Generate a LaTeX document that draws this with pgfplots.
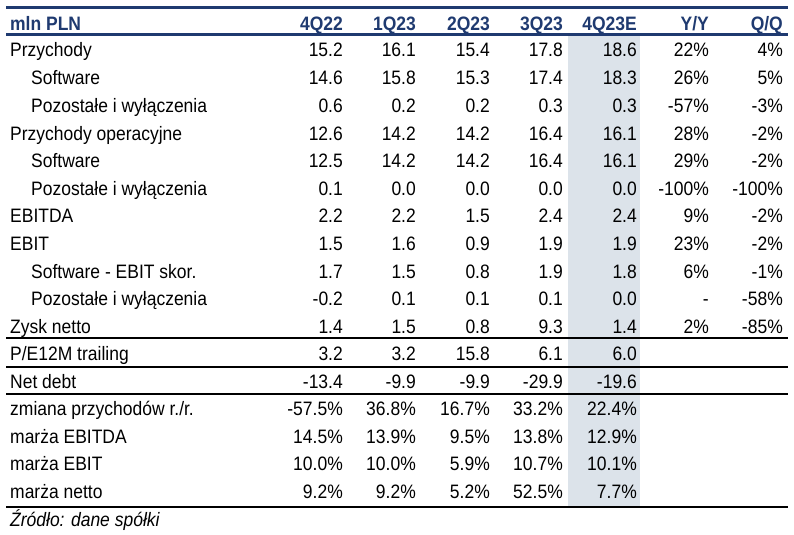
\documentclass[border=0pt]{standalone}
\usepackage{fontspec}
\setmainfont{Liberation Sans}[FakeStretch=0.9]
\usepackage{pgfplots}
\pgfplotsset{compat=1.18}
\definecolor{navy}{HTML}{1F3A70}
\definecolor{shade}{HTML}{DCE3EA}
\newcommand{\tbl}{\fontsize{19.5}{21}\selectfont}
\pgfplotsset{
  txtR/.style={draw=none, mark=none, nodes near coords, point meta=explicit symbolic,
    every node near coord/.append style={anchor=base east, inner sep=0pt, font=\tbl, text=black}},
  txtL/.style={draw=none, mark=none, nodes near coords, point meta=explicit symbolic,
    every node near coord/.append style={anchor=base west, inner sep=0pt, font=\tbl, text=black}},
  hdr/.style={draw=none, mark=none, nodes near coords, point meta=explicit symbolic,
    every node near coord/.append style={anchor=base east, inner sep=0pt, font=\tbl\bfseries, text=navy}},
}
\begin{document}
\begin{tikzpicture}
\begin{axis}[
  width=794bp, height=535bp, scale only axis,
  xmin=0, xmax=794, ymin=0, ymax=535, y dir=reverse,
  hide axis, clip=false,
]
% invisible frame to fix the page size
\addplot[draw=none, mark=none] coordinates {(0,0) (794,535)};
% shaded forecast column
\addplot[fill=shade, draw=none] coordinates {(568,36) (640,36) (640,506) (568,506)} -- cycle;
% rules
\addplot[navy, line width=2.5bp] coordinates {(6,7.5) (788,7.5)};
\addplot[navy, line width=2.8bp] coordinates {(6,34.5) (788,34.5)};
\addplot[black, line width=2bp] coordinates {(6,338) (788,338)};
\addplot[black, line width=2bp] coordinates {(6,366.5) (788,366.5)};
\addplot[black, line width=2bp] coordinates {(6,393.5) (788,393.5)};
\addplot[black, line width=2.5bp] coordinates {(6,507) (788,507)};
% header
\addplot[hdr] coordinates {(343,31) [4Q22] (416,31) [1Q23] (490,31) [2Q23] (563,31) [3Q23] (637,31) [4Q23E] (709,31) [Y/Y] (783,31) [Q/Q]};
\addplot[hdr, every node near coord/.append style={anchor=base west}] coordinates {(10,31) [mln PLN]};
% row labels (main)
\addplot[txtL] coordinates {
 (10,57) [Przychody]
 (10,140.1) [Przychody operacyjne]
 (10,222.9) [EBITDA]
 (10,250.5) [EBIT]
 (10,333.3) [Zysk netto]
 (10,360.3) [P/E12M trailing]
 (10,388) [Net debt]
 (10,415.5) [zmiana przychodów r./r.]
 (10,443) [marża EBITDA]
 (10,470.5) [marża EBIT]
 (10,498) [marża netto]
};
% row labels (indented)
\addplot[txtL] coordinates {
 (31,84.9) [Software]
 (31,112.5) [Pozostałe i wyłączenia]
 (31,167.7) [Software]
 (31,195.3) [Pozostałe i wyłączenia]
 (31,278.1) [Software - EBIT skor.]
 (31,305.7) [Pozostałe i wyłączenia]
};
% 4Q22
\addplot[txtR] coordinates {
 (343,57) [15.2] (343,84.9) [14.6] (343,112.5) [0.6] (343,140.1) [12.6] (343,167.7) [12.5]
 (343,195.3) [0.1] (343,222.9) [2.2] (343,250.5) [1.5] (343,278.1) [1.7] (343,305.7) [-0.2]
 (343,333.3) [1.4] (343,360.3) [3.2] (343,388) [-13.4] (343,415.5) [-57.5\%] (343,443) [14.5\%]
 (343,470.5) [10.0\%] (343,498) [9.2\%]
};
% 1Q23
\addplot[txtR] coordinates {
 (416,57) [16.1] (416,84.9) [15.8] (416,112.5) [0.2] (416,140.1) [14.2] (416,167.7) [14.2]
 (416,195.3) [0.0] (416,222.9) [2.2] (416,250.5) [1.6] (416,278.1) [1.5] (416,305.7) [0.1]
 (416,333.3) [1.5] (416,360.3) [3.2] (416,388) [-9.9] (416,415.5) [36.8\%] (416,443) [13.9\%]
 (416,470.5) [10.0\%] (416,498) [9.2\%]
};
% 2Q23
\addplot[txtR] coordinates {
 (490,57) [15.4] (490,84.9) [15.3] (490,112.5) [0.2] (490,140.1) [14.2] (490,167.7) [14.2]
 (490,195.3) [0.0] (490,222.9) [1.5] (490,250.5) [0.9] (490,278.1) [0.8] (490,305.7) [0.1]
 (490,333.3) [0.8] (490,360.3) [15.8] (490,388) [-9.9] (490,415.5) [16.7\%] (490,443) [9.5\%]
 (490,470.5) [5.9\%] (490,498) [5.2\%]
};
% 3Q23
\addplot[txtR] coordinates {
 (563,57) [17.8] (563,84.9) [17.4] (563,112.5) [0.3] (563,140.1) [16.4] (563,167.7) [16.4]
 (563,195.3) [0.0] (563,222.9) [2.4] (563,250.5) [1.9] (563,278.1) [1.9] (563,305.7) [0.1]
 (563,333.3) [9.3] (563,360.3) [6.1] (563,388) [-29.9] (563,415.5) [33.2\%] (563,443) [13.8\%]
 (563,470.5) [10.7\%] (563,498) [52.5\%]
};
% 4Q23E
\addplot[txtR] coordinates {
 (637,57) [18.6] (637,84.9) [18.3] (637,112.5) [0.3] (637,140.1) [16.1] (637,167.7) [16.1]
 (637,195.3) [0.0] (637,222.9) [2.4] (637,250.5) [1.9] (637,278.1) [1.8] (637,305.7) [0.0]
 (637,333.3) [1.4] (637,360.3) [6.0] (637,388) [-19.6] (637,415.5) [22.4\%] (637,443) [12.9\%]
 (637,470.5) [10.1\%] (637,498) [7.7\%]
};
% Y/Y
\addplot[txtR] coordinates {
 (709,57) [22\%] (709,84.9) [26\%] (709,112.5) [-57\%] (709,140.1) [28\%] (709,167.7) [29\%]
 (709,195.3) [-100\%] (709,222.9) [9\%] (709,250.5) [23\%] (709,278.1) [6\%] (709,305.7) [-]
 (709,333.3) [2\%]
};
% Q/Q
\addplot[txtR] coordinates {
 (783,57) [4\%] (783,84.9) [5\%] (783,112.5) [-3\%] (783,140.1) [-2\%] (783,167.7) [-2\%]
 (783,195.3) [-100\%] (783,222.9) [-2\%] (783,250.5) [-2\%] (783,278.1) [-1\%] (783,305.7) [-58\%]
 (783,333.3) [-85\%]
};
% source
\addplot[txtL, every node near coord/.append style={font=\tbl\itshape}] coordinates {(10,526) [Źródło: dane spółki]};
\end{axis}
\end{tikzpicture}
\end{document}
